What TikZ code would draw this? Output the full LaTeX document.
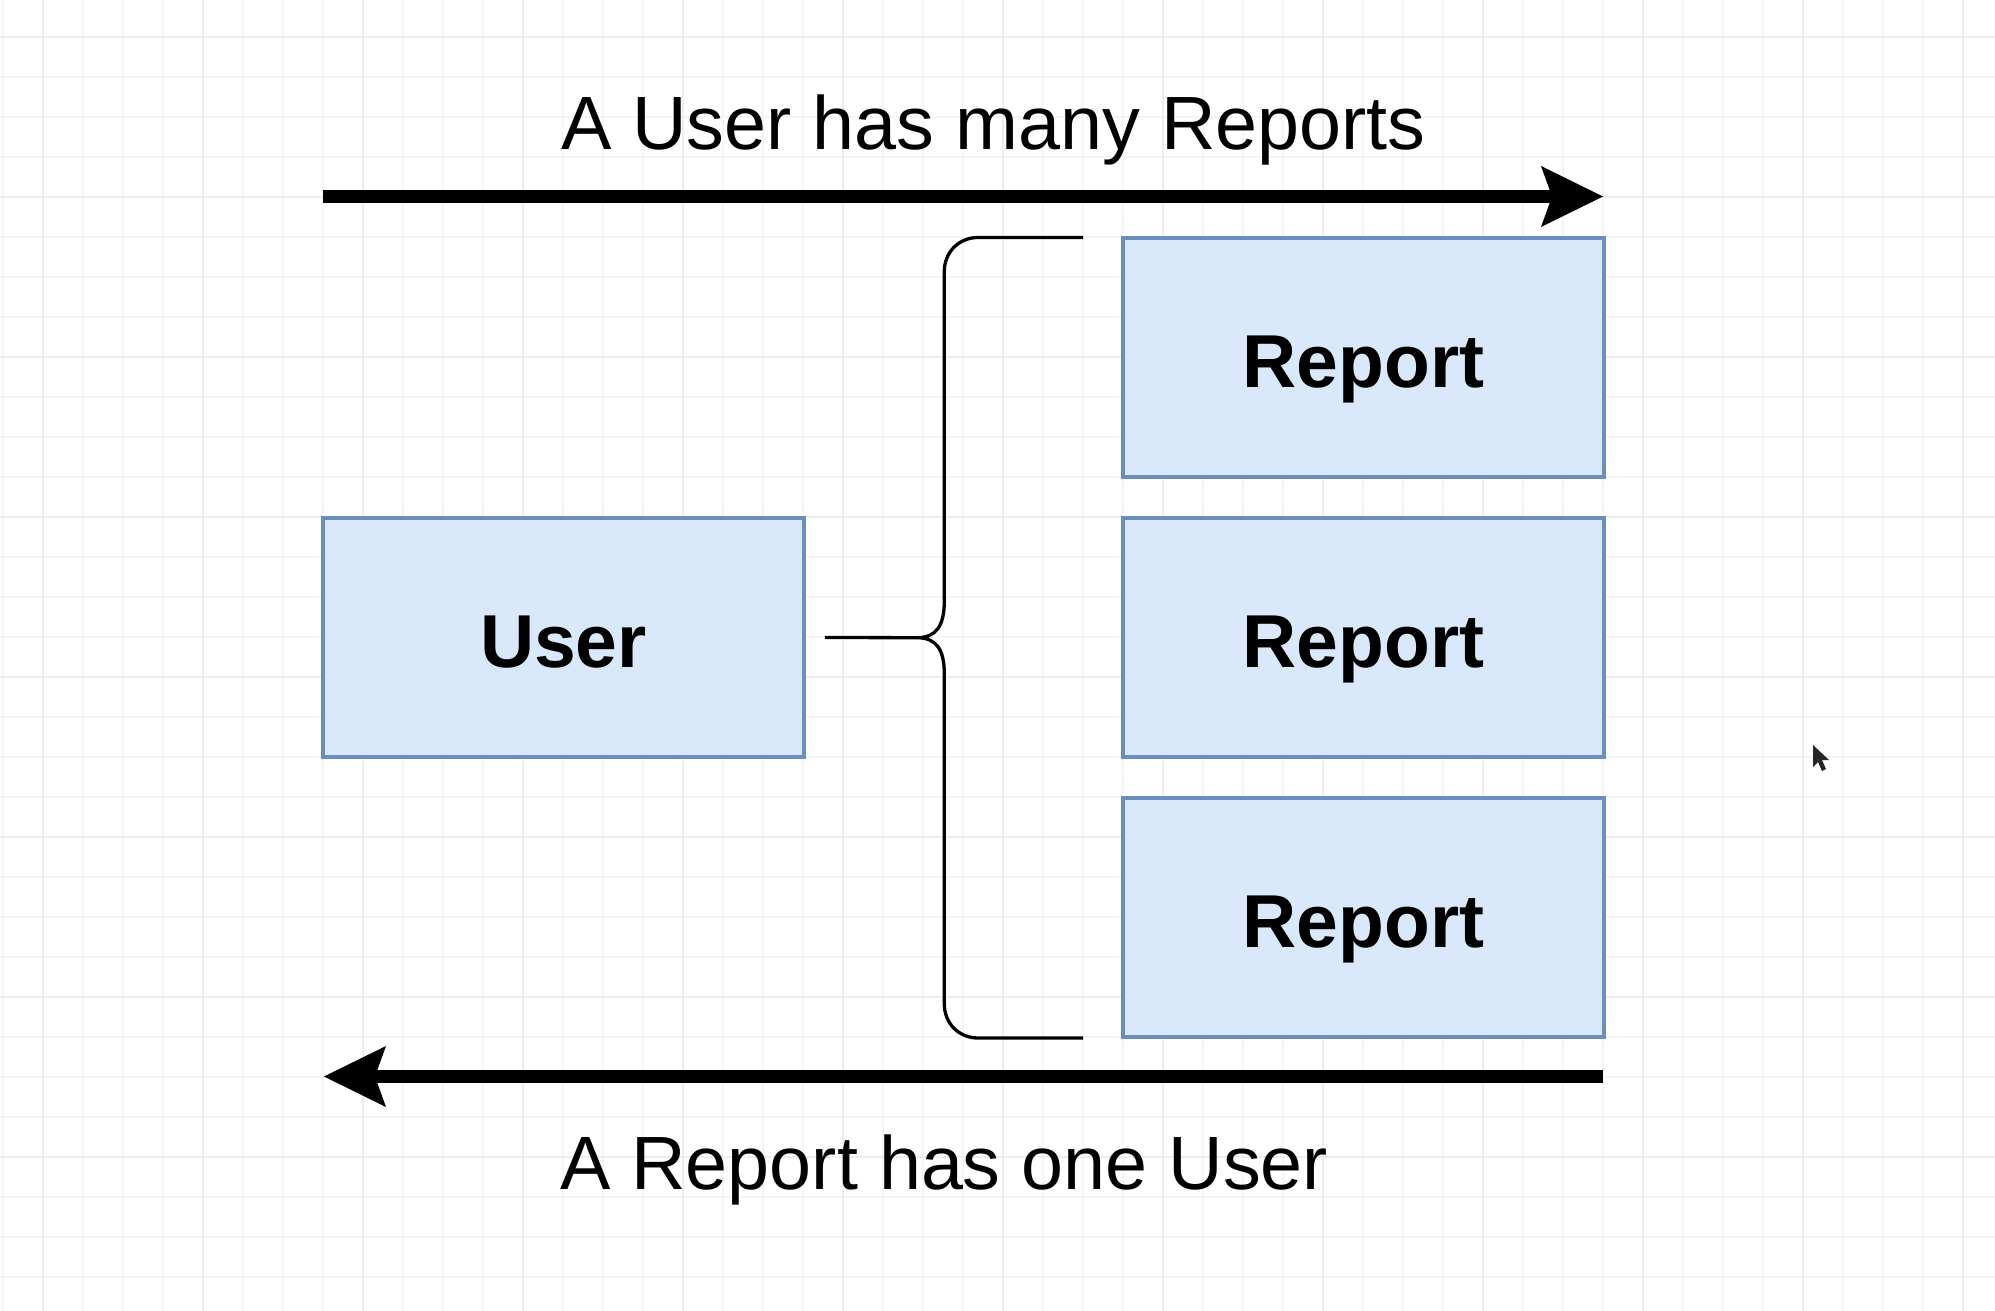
\documentclass[tikz,border=0pt]{standalone}
\usepackage{fontspec}
\setmainfont{Liberation Sans}
\usetikzlibrary{arrows.meta}
\definecolor{boxfill}{HTML}{DAE8FC}
\definecolor{boxline}{HTML}{6C8EBF}
\definecolor{gridminor}{HTML}{F5F5F5}
\definecolor{gridmajor}{HTML}{EDEDED}
\tikzset{
  entity/.style={draw=boxline, fill=boxfill, line width=3.5pt, minimum width=481pt,
    minimum height=239pt, inner sep=0pt, text height=60pt, text depth=0pt,
    font=\fontsize{75}{84}\selectfont\bfseries},
  caption/.style={inner sep=0pt, font=\fontsize{75.5}{85}\selectfont},
  bigarrow/.style={line width=12.5pt, -{Stealth[length=62pt,width=61pt,inset=11pt,line width=0pt]}},
  bracket/.style={line width=3.3pt, line join=round},
  minorline/.style={gridminor, line width=1.6pt},
  majorline/.style={gridmajor, line width=2pt},
}
\begin{document}
\begin{tikzpicture}[x=1pt, y=-1pt]
\useasboundingbox (0,0) rectangle (1995,1311);
\fill[white] (0,0) rectangle (1995,1311);
% grid
\foreach \gx in {3,43,...,1995} \draw[minorline] (\gx,0) -- (\gx,1311);
\foreach \gy in {37,77,...,1311} \draw[minorline] (0,\gy) -- (1995,\gy);
\foreach \gx in {43,203,...,1995} \draw[majorline] (\gx,0) -- (\gx,1311);
\foreach \gy in {37,197,...,1311} \draw[majorline] (0,\gy) -- (1995,\gy);

% boxes
\node[entity] (r1) at (1363.5,357.5) {Report};
\node[entity] (r2) at (1363.5,637.5) {Report};
\node[entity] (r3) at (1363.5,917.5) {Report};
\node[entity] (user) at (563.5,637.5) {User};

% captions
\node[caption, anchor=base west] (ltop) at (561,149.5) {A User has many Reports};
\node[caption, anchor=base west] (lbot) at (560,1189) {A Report has one User};

% arrows
\coordinate (a1s) at (323,196.5);
\coordinate (a1e) at (1603,196.5);
\coordinate (a2s) at (1603,1076.5);
\coordinate (a2e) at (324,1076.5);
\draw[bigarrow] (a1s) -- (a1e);
\draw[bigarrow] (a2s) -- (a2e);

% brace
\coordinate (btop) at (1083,237.5);
\coordinate (bbot) at (1083,1038);
\coordinate (btip) at (917,637.7);
\draw[bracket] (btop) -- (978,237.5)
  .. controls (959,237.5) and (944.3,252) .. (944.3,271.5)
  -- (944.3,601)
  .. controls (944.3,626) and (936,637.7) .. (btip)
  .. controls (936,637.7) and (944.3,649) .. (944.3,674)
  -- (944.3,1004)
  .. controls (944.3,1023.5) and (959,1038) .. (978,1038)
  -- (bbot);
\draw[bracket] ([xshift=19pt]user.east) -- (btip);

% mouse cursor
\fill[black!85] (1813,745) -- (1813,767) -- (1818,762) -- (1822,771) -- (1826,769)
  -- (1822,760) -- (1829,760) -- cycle;
\end{tikzpicture}
\end{document}
